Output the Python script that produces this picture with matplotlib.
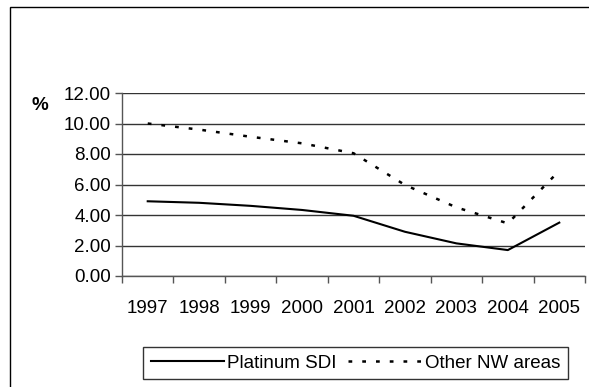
import numpy as np
import matplotlib
matplotlib.use("Agg")
import matplotlib.pyplot as plt
from matplotlib.patches import Rectangle

plt.rcParams['font.family'] = ['Liberation Sans', 'DejaVu Sans']

years = ["1997", "1998", "1999", "2000", "2001", "2002", "2003", "2004", "2005"]
platinum_sdi = [4.9, 4.8, 4.6, 4.33, 3.95, 2.9, 2.14, 1.7, 3.5]
other_nw = [10.0, 9.6, 9.13, 8.7, 8.05, 5.97, 4.5, 3.45, 6.9]
y_ticks = [0, 2, 4, 6, 8, 10, 12]

W, H = 589, 387
FS = 13.5
fig = plt.figure(figsize=(W / 100, H / 100), dpi=100)

# outer chart frame (right/bottom run off the picture)
fig.patches.append(Rectangle((10 / W, -0.1), 1.2, 1 - 7 / H + 0.1, transform=fig.transFigure,
                             fill=False, edgecolor="black", lw=1.0))

ax = fig.add_axes([122 / W, (H - 276) / H, 463 / W, 183 / H])
x = np.arange(len(years))
ax.plot(x, platinum_sdi, color="black", lw=1.5, label="Platinum SDI")
ax.plot(x, other_nw, color="black", lw=1.8, dashes=(1.5, 4), label="Other NW areas")

ax.set_xlim(-0.5, len(years) - 0.5)
ax.set_ylim(0, 12)
ax.set_yticks(y_ticks)
ax.set_yticklabels([f"{v:.2f}" for v in y_ticks], fontsize=FS)
ax.set_xticks(np.arange(len(years) + 1) - 0.5)
ax.set_xticklabels([])
ax.set_xticks(x, minor=True)
ax.set_xticklabels(years, minor=True, fontsize=FS)
ax.tick_params(axis="x", which="minor", length=0, pad=17)
ax.tick_params(axis="x", which="major", length=5, width=1, color="#555555", direction="out")
ax.tick_params(axis="y", length=5, width=1, color="#555555", direction="out", pad=3)
ax.yaxis.grid(True, color="#333333", lw=1)
ax.set_axisbelow(True)
for s in ["top", "right"]:
    ax.spines[s].set_visible(False)
for s in ["left", "bottom"]:
    ax.spines[s].set_color("#555555")
    ax.spines[s].set_linewidth(1)

fig.text(40 / W, 1 - 106 / H, "%", fontsize=FS, fontweight="bold", va="center", ha="center")

leg = fig.legend(loc="upper left", bbox_to_anchor=(143 / W, 1 - 347 / H), ncol=2,
                 fontsize=FS, frameon=True, fancybox=False, edgecolor="black",
                 handlelength=3.9, handletextpad=0.2, columnspacing=0.6,
                 borderpad=0.4, borderaxespad=0, handleheight=0.6)
leg.get_frame().set_linewidth(1)

fig.savefig("out.png", dpi=100)
